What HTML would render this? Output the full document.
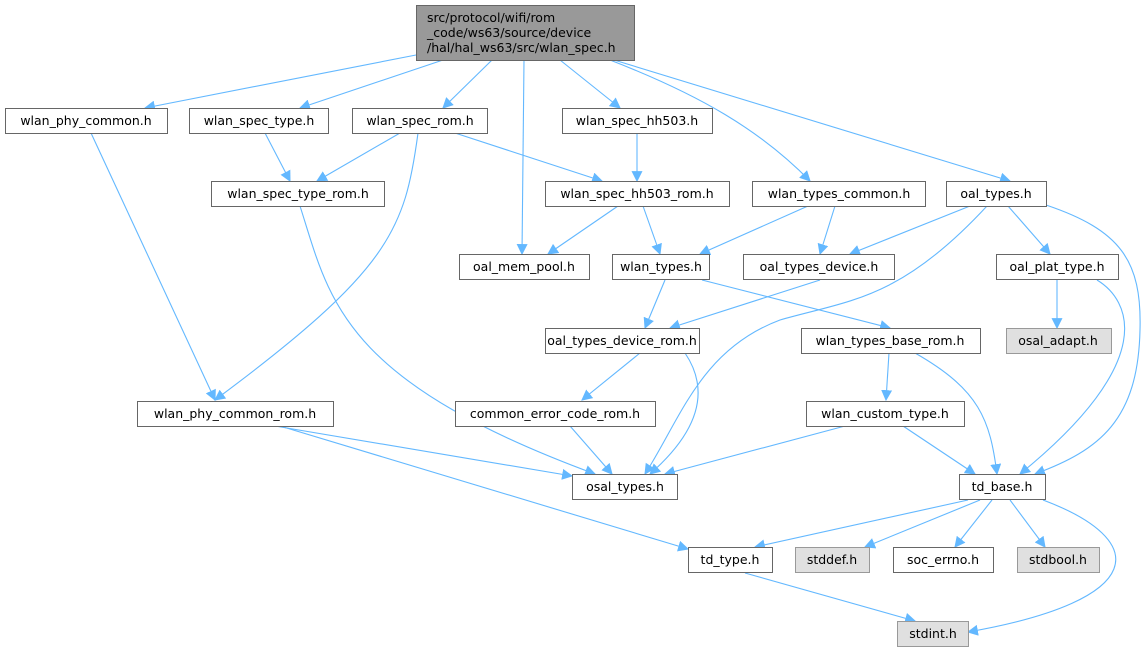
<!DOCTYPE html>
<html><head><meta charset="utf-8"><style>
html,body{margin:0;padding:0;background:#fff;}
svg text{font-family:"DejaVu Sans","Liberation Sans",sans-serif;font-size:12.5px;fill:#000;}
</style></head><body>
<svg width="1148" height="652" viewBox="0 0 1148 652" xmlns="http://www.w3.org/2000/svg">
<defs><marker id="a" viewBox="0 0 10 10" refX="9" refY="5" markerWidth="11" markerHeight="11" markerUnits="userSpaceOnUse" orient="auto"><path d="M0,0 L10,5 L0,10 z" fill="#63b8ff"/></marker></defs>
<g fill="none" stroke="#63b8ff" stroke-width="1.1" marker-end="url(#a)">
<path d="M416,55 L145,108"/>
<path d="M443,60 L300,108"/>
<path d="M492,60 L443,108"/>
<path d="M524,60 L522,254"/>
<path d="M560,60 L620,108"/>
<path d="M610,60 C700,95 760,130 810,181"/>
<path d="M614,60 L1010,181"/>
<path d="M91,133 L215,400"/>
<path d="M265,133 L290,181"/>
<path d="M400,133 L317,181"/>
<path d="M418,133 C405,230 390,270 215,400"/>
<path d="M455,133 L602,181"/>
<path d="M637,133 L637,181"/>
<path d="M300,206 C330,300 340,380 595,474"/>
<path d="M618,206 L548,254"/>
<path d="M643,206 L660,254"/>
<path d="M808,206 L700,254"/>
<path d="M835,206 L820,254"/>
<path d="M970,206 L850,254"/>
<path d="M987,206 C900,300 850,300 780,320 C700,350 680,420 645,474"/>
<path d="M1008,206 L1050,254"/>
<path d="M1046,205 C1120,230 1142,260 1140,330 C1138,420 1100,450 1035,474"/>
<path d="M1057,280 L1057,328"/>
<path d="M1097,280 C1130,300 1160,360 1020,474"/>
<path d="M665,280 L645,328"/>
<path d="M702,280 L890,328"/>
<path d="M820,280 L670,328"/>
<path d="M640,353 L582,400"/>
<path d="M685,353 C710,390 700,430 650,474"/>
<path d="M889,353 L886,400"/>
<path d="M915,353 C980,390 990,420 997,474"/>
<path d="M845,426 L665,474"/>
<path d="M903,426 L975,474"/>
<path d="M275,426 L572,476"/>
<path d="M280,426 L688,549"/>
<path d="M570,426 L612,474"/>
<path d="M968,500 L755,547"/>
<path d="M980,500 L865,547"/>
<path d="M992,500 L955,547"/>
<path d="M1010,500 L1045,547"/>
<path d="M1043,500 C1150,540 1150,600 968,632"/>
<path d="M745,573 L915,621"/>
</g>
<g stroke="#666" stroke-width="1">
<rect x="416.5" y="5.5" width="218" height="55" fill="#999"/>
<g fill="#fff">
<rect x="5.5" y="108.5" width="162" height="25"/>
<rect x="189.5" y="108.5" width="139" height="25"/>
<rect x="352.5" y="108.5" width="135" height="25"/>
<rect x="562.5" y="108.5" width="150" height="25"/>
<rect x="211.5" y="181.5" width="173" height="25"/>
<rect x="545.5" y="181.5" width="184" height="25"/>
<rect x="752.5" y="181.5" width="173" height="25"/>
<rect x="946.5" y="181.5" width="100" height="25"/>
<rect x="459.5" y="254.5" width="130" height="25"/>
<rect x="612.5" y="254.5" width="97" height="25"/>
<rect x="743.5" y="254.5" width="151" height="25"/>
<rect x="996.5" y="254.5" width="122" height="25"/>
<rect x="545.5" y="328.5" width="154" height="25"/>
<rect x="801.5" y="328.5" width="179" height="25"/>
<rect x="137.5" y="401.5" width="196" height="25"/>
<rect x="455.5" y="401.5" width="200" height="25"/>
<rect x="806.5" y="401.5" width="158" height="25"/>
<rect x="572.5" y="474.5" width="105" height="25"/>
<rect x="959.5" y="474.5" width="86" height="25"/>
<rect x="688.5" y="547.5" width="84" height="25"/>
<rect x="893.5" y="547.5" width="100" height="25"/>
</g>
<g fill="#e0e0e0" stroke="#999">
<rect x="1006.5" y="328.5" width="105" height="25"/>
<rect x="795.5" y="547.5" width="74" height="25"/>
<rect x="1017.5" y="547.5" width="82" height="25"/>
<rect x="897.5" y="621.5" width="71" height="25"/>
</g>
</g>
<text x="427" y="22">src/protocol/wifi/rom</text>
<text x="427" y="37">_code/ws63/source/device</text>
<text x="427" y="52">/hal/hal_ws63/src/wlan_spec.h</text>
<g text-anchor="middle">
<text x="86" y="125">wlan_phy_common.h</text>
<text x="259" y="125">wlan_spec_type.h</text>
<text x="420" y="125">wlan_spec_rom.h</text>
<text x="637" y="125">wlan_spec_hh503.h</text>
<text x="298" y="198">wlan_spec_type_rom.h</text>
<text x="637" y="198">wlan_spec_hh503_rom.h</text>
<text x="839" y="198">wlan_types_common.h</text>
<text x="996" y="198">oal_types.h</text>
<text x="524" y="271">oal_mem_pool.h</text>
<text x="661" y="271">wlan_types.h</text>
<text x="819" y="271">oal_types_device.h</text>
<text x="1057" y="271">oal_plat_type.h</text>
<text x="622" y="345">oal_types_device_rom.h</text>
<text x="890" y="345">wlan_types_base_rom.h</text>
<text x="1058" y="345">osal_adapt.h</text>
<text x="235" y="418">wlan_phy_common_rom.h</text>
<text x="555" y="418">common_error_code_rom.h</text>
<text x="885" y="418">wlan_custom_type.h</text>
<text x="625" y="491">osal_types.h</text>
<text x="1002" y="491">td_base.h</text>
<text x="730" y="564">td_type.h</text>
<text x="832" y="564">stddef.h</text>
<text x="943" y="564">soc_errno.h</text>
<text x="1058" y="564">stdbool.h</text>
<text x="933" y="638">stdint.h</text>
</g>
</svg>
</body></html>
